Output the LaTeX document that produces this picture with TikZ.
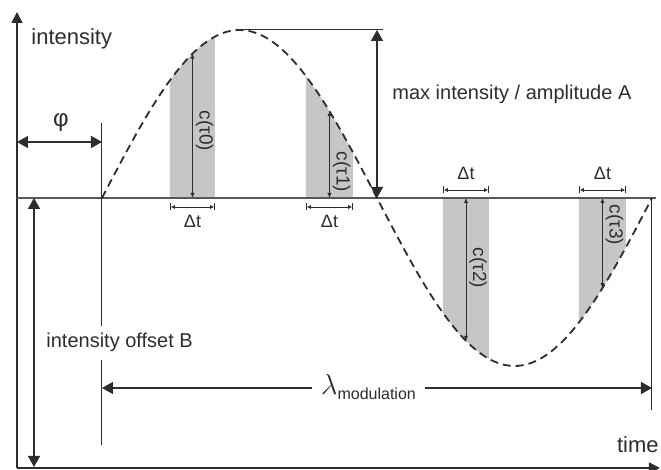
\documentclass[tikz,border=0pt]{standalone}
\usepackage{fontspec}
\setsansfont{Liberation Sans}
\usetikzlibrary{arrows.meta,positioning,calc}
\definecolor{slotGrey}{RGB}{198,198,198}
\definecolor{inkGrey}{RGB}{45,45,45}
\tikzset{wavepanel/.style={
  x=0.5pt, y=-0.5pt,
  font=\sffamily\fontsize{10}{12}\selectfont,
  declare function={wave(\t)=198-168*sin((\t-102)/550*360);},
  axis/.style={line width=0.8pt, draw=inkGrey, -{Triangle[length=5.5pt,width=5.5pt]}},
  midline/.style={line width=0.6pt, draw=black!65},
  guide/.style={line width=0.5pt, draw=inkGrey},
  bigdim/.style={line width=0.7pt, draw=inkGrey,
    {Triangle[length=5.5pt,width=6pt]}-{Triangle[length=5.5pt,width=6pt]}},
  bigflow/.style={line width=0.7pt, draw=inkGrey, -{Triangle[length=5.5pt,width=6pt]}},
  cdim/.style={line width=0.45pt, draw=inkGrey,
    {Latex[length=2.5pt,width=2.2pt]}-{Latex[length=2.5pt,width=2.2pt]}},
  dtdim/.style={line width=0.45pt, draw=inkGrey,
    {Bar[width=3.5pt].Latex[length=2pt,width=2.2pt]}-{Latex[length=2pt,width=2.2pt].Bar[width=3.5pt]}},
  slot/.style={fill=slotGrey, draw=none},
  curve/.style={line width=0.9pt, draw=inkGrey, dash pattern=on 4pt off 2.5pt},
  txt/.style={inner sep=0pt, text=inkGrey},
  axlab/.style={txt, font=\sffamily\fontsize{11}{13}\selectfont},
  clab/.style={txt, rotate=-90, font=\sffamily\fontsize{9.5}{11}\selectfont},
  dtlab/.style={txt, anchor=base, font=\sffamily\fontsize{9}{11}\selectfont},
}}
\begin{document}
\begin{tikzpicture}[wavepanel]
\useasboundingbox (0,0) rectangle (661,470);

% shaded sampling windows with their c(tau) and delta t
\foreach \l/\r/\n/\cy/\dy/\ty in {170/215/0/131/207/228, 306/353/1/172/207/228,
                                  443/489/2/268/190/180, 579/626/3/225/190/180}{
  \pgfmathsetmacro{\m}{(\l+\r)/2}
  \fill[slot] (\l,198) -- plot[domain=\l:\r, samples=20] (\x,{wave(\x)}) -- (\r,198) -- cycle;
  \coordinate (base\n) at (\m,198);
  \coordinate (top\n) at (\m,{wave(\m)});
  \draw[cdim] (base\n) -- (top\n);
  \node[clab] (c\n) at (\m+12,\cy) {c(τ\n)};
  \coordinate (dl\n) at (\l,\dy);
  \coordinate (dr\n) at (\r,\dy);
  \draw[dtdim] (dl\n) -- (dr\n);
  \node[dtlab] (dt\n) at (\m,\ty) {Δt};
}

% axes and zero line
\coordinate (origin) at (17,468);
\coordinate (ytip) at (17,12);
\coordinate (xtip) at (660,468);
\draw[axis] (origin) -- (ytip);
\draw[axis] (origin) -- (xtip);
\coordinate (zl) at (17,198);
\coordinate (zr) at (656,198);
\draw[midline] (zl) -- (zr);
\node[axlab, anchor=base west] (ylab) at (31,45) {intensity};
\node[axlab, anchor=base east] (xlab) at (659,453) {time};

% phase
\coordinate (start) at (102,198);
\coordinate (marktop) at (102,123);
\coordinate (markbot) at (102,445);
\draw[guide] (marktop) -- (markbot);
\coordinate (phil) at (17,142);
\coordinate (phir) at (102,142);
\draw[bigdim] (phil) -- (phir);
\node[txt, font=\sffamily\fontsize{12}{14}\selectfont] (phi) at (61,123) {φ};

% offset
\coordinate (offtop) at (34,198);
\coordinate (offbot) at (34,467);
\draw[bigdim] (offtop) -- (offbot);
\node[txt, anchor=base west, fill=white, inner xsep=1pt, inner ysep=4pt] (offlab) at (44,348) {intensity offset B};

% amplitude
\coordinate (peak) at (239.5,30);
\coordinate (ampend) at (383,30);
\coordinate (amptop) at (377,30);
\coordinate (ampbot) at (377,198);
\draw[guide] (peak) -- (ampend);
\draw[bigdim] (amptop) -- (ampbot);
\node[txt, anchor=base west] (amplab) at (392,100) {max intensity / amplitude A};

% wavelength
\coordinate (endp) at (652,198);
\coordinate (endbot) at (652,410);
\draw[guide] (endp) -- (endbot);
\coordinate (laml) at (102,388);
\coordinate (lamr) at (652,388);
\node[txt, anchor=base, inner xsep=4.5pt] (lam) at (368.5,395)
  {{\fontsize{15}{15}\selectfont$\lambda$}\raisebox{-2.5pt}{\fontsize{8}{9}\selectfont modulation}};
\draw[bigflow] (laml -| lam.west) -- (laml);
\draw[bigflow] (lamr -| lam.east) -- (lamr);

% the wave
\draw[curve] plot[domain=102:652, samples=120] (\x,{wave(\x)});
\end{tikzpicture}
\end{document}
